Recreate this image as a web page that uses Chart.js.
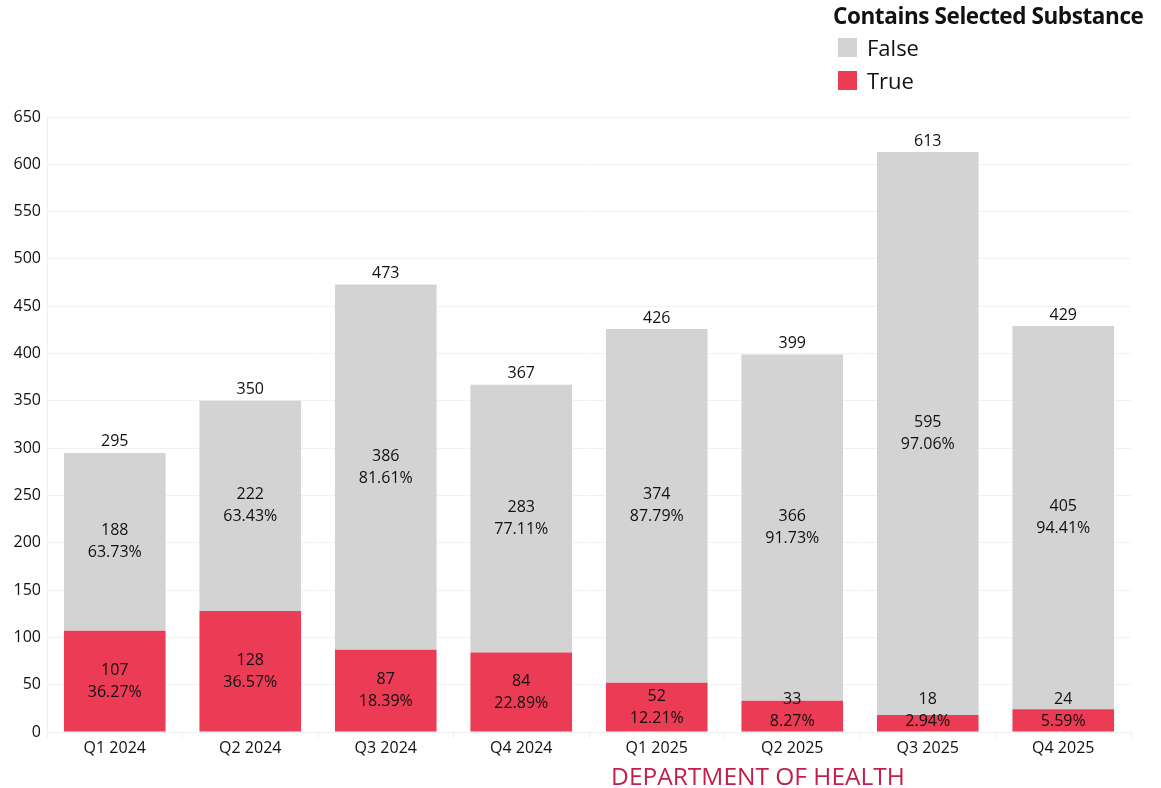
<!DOCTYPE html>
<html>
<head>
<meta charset="utf-8">
<script src="https://cdn.jsdelivr.net/npm/chart.js@4"></script>
<style>
  html, body { margin: 0; padding: 0; background: #fff; }
  #wrap { position: relative; width: 1161px; height: 788px; font-family: "Open Sans", sans-serif; }
  #grafico { position: absolute; left: 0; top: 0; }
  #leyenda { position: absolute; left: 833px; top: 1px; color: #111; }
  #leyenda .titulo { font-weight: bold; font-size: 22.5px; letter-spacing: -0.4px; line-height: 30px; }
  #leyenda .item { font-size: 22px; height: 33px; line-height: 33px; display: flex; align-items: center; }
  #leyenda .caja { width: 19px; height: 19px; margin: 0 10px 0 5px; }
  #pie { position: absolute; left: 0; width: 1516px; top: 759px; text-align: center; font-size: 24.5px; color: #c41e4a; }
</style>
</head>
<body>
<div id="wrap">
  <canvas id="grafico" width="1161" height="788"></canvas>
  <div id="leyenda">
    <div class="titulo">Contains Selected Substance</div>
    <div class="item"><span class="caja" style="background:#d3d3d3"></span>False</div>
    <div class="item"><span class="caja" style="background:#eb3b55"></span>True</div>
  </div>
  <div id="pie">DEPARTMENT OF HEALTH</div>
</div>
<script>
const trimestres = ["Q1 2024", "Q2 2024", "Q3 2024", "Q4 2024", "Q1 2025", "Q2 2025", "Q3 2025", "Q4 2025"];
const valores_true = [107, 128, 87, 84, 52, 33, 18, 24];
const valores_false = [188, 222, 386, 283, 374, 366, 595, 405];
const ticks_y = [0, 50, 100, 150, 200, 250, 300, 350, 400, 450, 500, 550, 600, 650];

const colorTrue = '#eb3b55';
const colorFalse = '#d3d3d3';
const colorTexto = '#111111';
const fuente = '"Open Sans", sans-serif';

// etiquetas de conteo y porcentaje dentro de cada segmento + total arriba
const etiquetas = {
    id: 'etiquetas',
    afterDatasetsDraw(chart) {
        const c = chart.ctx;
        const y0 = chart.scales.y.getPixelForValue(0);
        c.save();
        c.fillStyle = colorTexto;
        c.font = '16px ' + fuente;
        c.textAlign = 'center';
        c.textBaseline = 'middle';
        trimestres.forEach(function(q, i) {
            const total = valores_true[i] + valores_false[i];
            chart.data.datasets.forEach(function(ds, d) {
                const bar = chart.getDatasetMeta(d).data[i];
                const v = ds.data[i];
                let cy = (bar.y + bar.base) / 2;
                if (d === 0) cy = Math.min(cy, y0 - 22);
                c.fillText(String(v), bar.x, cy - 11);
                c.fillText((v / total * 100).toFixed(2) + '%', bar.x, cy + 11);
            });
            const top = chart.getDatasetMeta(1).data[i];
            c.fillText(String(total), top.x, top.y - 11);
        });
        c.restore();
    }
};

function grafico_barras(){
    const ctx = document.getElementById("grafico");
    new Chart(ctx, {
        type: 'bar',
        data: {
            labels: trimestres,
            datasets: [{
                label: 'True',
                data: valores_true,
                backgroundColor: colorTrue,
                barPercentage: 0.75,
                categoryPercentage: 1.0
            },
            {
                label: 'False',
                data: valores_false,
                backgroundColor: colorFalse,
                barPercentage: 0.75,
                categoryPercentage: 1.0
            }]
        },
        options: {
            responsive: false,
            animation: false,
            layout: { padding: { top: 117, right: 30, bottom: 0, left: 0 } },
            plugins: {
                legend: { display: false },
                tooltip: { enabled: false }
            },
            scales: {
                x: {
                    stacked: true,
                    grid: { display: true, drawOnChartArea: false, color: '#eeeeee', tickLength: 6, offset: true },
                    border: { color: '#eeeeee' },
                    ticks: { color: colorTexto, font: { family: fuente, size: 16 }, padding: 1 },
                    afterFit(s) { s.height = 56; }
                },
                y: {
                    stacked: true,
                    min: 0,
                    max: 650,
                    afterBuildTicks(s) { s.ticks = ticks_y.map(function(v) { return { value: v }; }); },
                    grid: { color: '#f2f2f2', drawTicks: false },
                    border: { color: '#eeeeee' },
                    ticks: { color: colorTexto, font: { family: fuente, size: 16 }, padding: 6 },
                    afterFit(s) { s.width = 47; }
                }
            }
        },
        plugins: [etiquetas]
    });
}

grafico_barras();
</script>
</body>
</html>
